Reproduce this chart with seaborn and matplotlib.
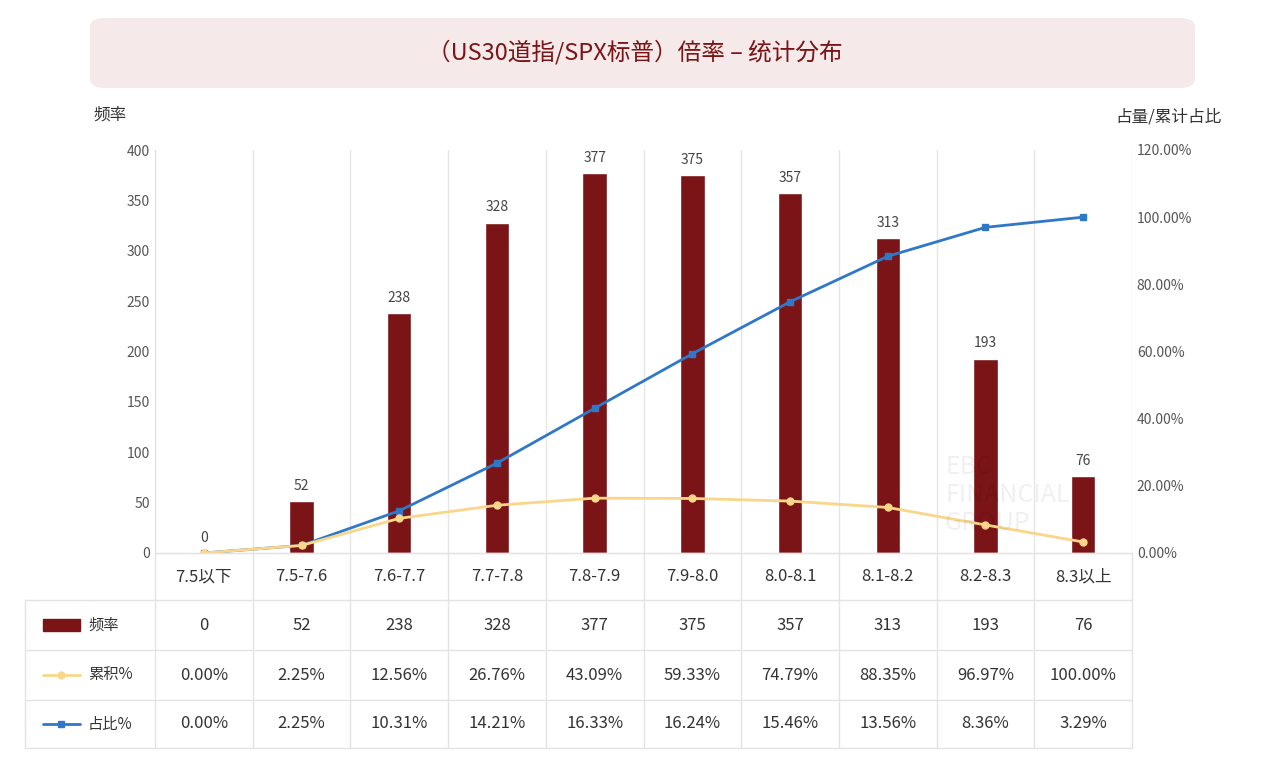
import numpy as np
import pandas as pd
import matplotlib.pyplot as plt
import seaborn as sns
from matplotlib import font_manager
from matplotlib.patches import FancyBboxPatch

sns.set_style("white")
# pick an installed CJK family
names = sorted({f.name for f in font_manager.fontManager.ttflist})
cjk = [n for n in names if 'CJK' in n]
pref = [n for n in ['Noto Sans CJK SC', 'Noto Sans CJK JP', 'Noto Sans CJK TC', 'Noto Sans CJK KR'] if n in cjk]
family = (pref or cjk or ['DejaVu Sans'])[0]
plt.rcParams['font.family'] = 'sans-serif'
plt.rcParams['font.sans-serif'] = [family, 'DejaVu Sans']
plt.rcParams['axes.unicode_minus'] = False

categories = ['7.5以下', '7.5-7.6', '7.6-7.7', '7.7-7.8', '7.8-7.9',
              '7.9-8.0', '8.0-8.1', '8.1-8.2', '8.2-8.3', '8.3以上']
freq = [0, 52, 238, 328, 377, 375, 357, 313, 193, 76]
cum_pct = [0.00, 2.25, 12.56, 26.76, 43.09, 59.33, 74.79, 88.35, 96.97, 100.00]
share_pct = [0.00, 2.25, 10.31, 14.21, 16.33, 16.24, 15.46, 13.56, 8.36, 3.29]

W, H = 1269, 774
fig = plt.figure(figsize=(W / 100, H / 100), dpi=100)

# title box
fig.patches.append(FancyBboxPatch((90 / W, 1 - 88 / H), 1105 / W, 70 / H,
                                  boxstyle="round,pad=0,rounding_size=0.012",
                                  transform=fig.transFigure, facecolor='#f5e9e9',
                                  edgecolor='none'))
fig.text(0.5, 1 - 52 / H, '（US30道指/SPX标普）倍率 – 统计分布', ha='center', va='center',
         fontsize=17, color='#7b1416')

ax = fig.add_axes([155 / W, 1 - 553 / H, 977 / W, 403 / H])
df = pd.DataFrame({'cat': categories, 'freq': freq})
sns.barplot(data=df, x='cat', y='freq', color='#7b1416', width=0.25, ax=ax, saturation=1)
for i, v in enumerate(freq):
    ax.text(i, v + 8, str(v), ha='center', va='bottom', fontsize=10, color='#444444')
ax.set_ylim(0, 400)
ax.set_xlim(-0.5, len(categories) - 0.5)
ax.set_yticks(range(0, 401, 50))
ax.tick_params(axis='y', labelsize=10, colors='#555555', length=0)
ax.set_xticks([])
ax.set_xlabel('')
ax.set_ylabel('')
for i in range(len(categories) + 1):
    ax.axvline(i - 0.5, color='#e6e6e6', lw=1, zorder=0)
for s in ['top', 'right']:
    ax.spines[s].set_visible(False)
ax.spines['left'].set_color('#dddddd')
ax.spines['bottom'].set_color('#dddddd')

ax2 = ax.twinx()
x = np.arange(len(categories))
ax2.plot(x, cum_pct, color='#2f78c8', lw=2, marker='s', ms=5)
ax2.plot(x, share_pct, color='#f9d68a', lw=2, marker='o', ms=5)
ax2.set_ylim(0, 120)
ax2.set_yticks(range(0, 121, 20))
ax2.set_yticklabels([f'{v:.2f}%' for v in range(0, 121, 20)])
ax2.tick_params(axis='y', labelsize=10, colors='#555555', length=0)
for s in ['top', 'right', 'left', 'bottom']:
    ax2.spines[s].set_visible(False)

fig.text(93 / W, 1 - 115 / H, '频率', fontsize=12, color='#333333', va='center')
fig.text(1222 / W, 1 - 117 / H, '占量/累计占比', fontsize=12, color='#333333',
         va='center', ha='right')
fig.text(945 / W, 1 - 495 / H, 'EBC\nFINANCIAL\nGROUP', fontsize=18, color='#000000',
         alpha=0.06, va='center', linespacing=1.1)

# table
x0, x1 = 25 / W, 1132 / W
cx0 = 155 / W
cw = (x1 - cx0) / len(categories)
rows_y = [553, 600, 650, 700, 748]
line_c = '#e3e3e3'
for k, yy in enumerate(rows_y):
    fig.add_artist(plt.Line2D([x0 if k > 0 else cx0, x1], [1 - yy / H] * 2, color=line_c, lw=1))
for i in range(len(categories) + 1):
    fig.add_artist(plt.Line2D([cx0 + i * cw] * 2, [1 - 553 / H, 1 - 748 / H], color=line_c, lw=1))
fig.add_artist(plt.Line2D([x0] * 2, [1 - 600 / H, 1 - 748 / H], color=line_c, lw=1))

def ymid(r):
    return 1 - (rows_y[r] + rows_y[r + 1]) / 2 / H

for i, c in enumerate(categories):
    fig.text(cx0 + (i + 0.5) * cw, ymid(0), c, ha='center', va='center', fontsize=12, color='#333333')
    fig.text(cx0 + (i + 0.5) * cw, ymid(1), str(freq[i]), ha='center', va='center', fontsize=12, color='#333333')
    fig.text(cx0 + (i + 0.5) * cw, ymid(2), f'{cum_pct[i]:.2f}%', ha='center', va='center', fontsize=12, color='#333333')
    fig.text(cx0 + (i + 0.5) * cw, ymid(3), f'{share_pct[i]:.2f}%', ha='center', va='center', fontsize=12, color='#333333')

fig.patches.append(plt.Rectangle((43 / W, ymid(1) - 6 / H), 37 / W, 12 / H,
                                 transform=fig.transFigure, color='#7b1416'))
fig.add_artist(plt.Line2D([43 / W, 61 / W, 80 / W], [ymid(3)] * 3, color='#2f78c8', lw=2,
                          marker='s', ms=5, markevery=[1]))
fig.add_artist(plt.Line2D([43 / W, 61 / W, 80 / W], [ymid(2)] * 3, color='#f9d68a', lw=2,
                          marker='o', ms=5, markevery=[1]))
for r, lab in zip([1, 2, 3], ['频率', '累积%', '占比%']):
    fig.text(88 / W, ymid(r), lab, ha='left', va='center', fontsize=11, color='#333333')

fig.savefig('out.png', dpi=100)
